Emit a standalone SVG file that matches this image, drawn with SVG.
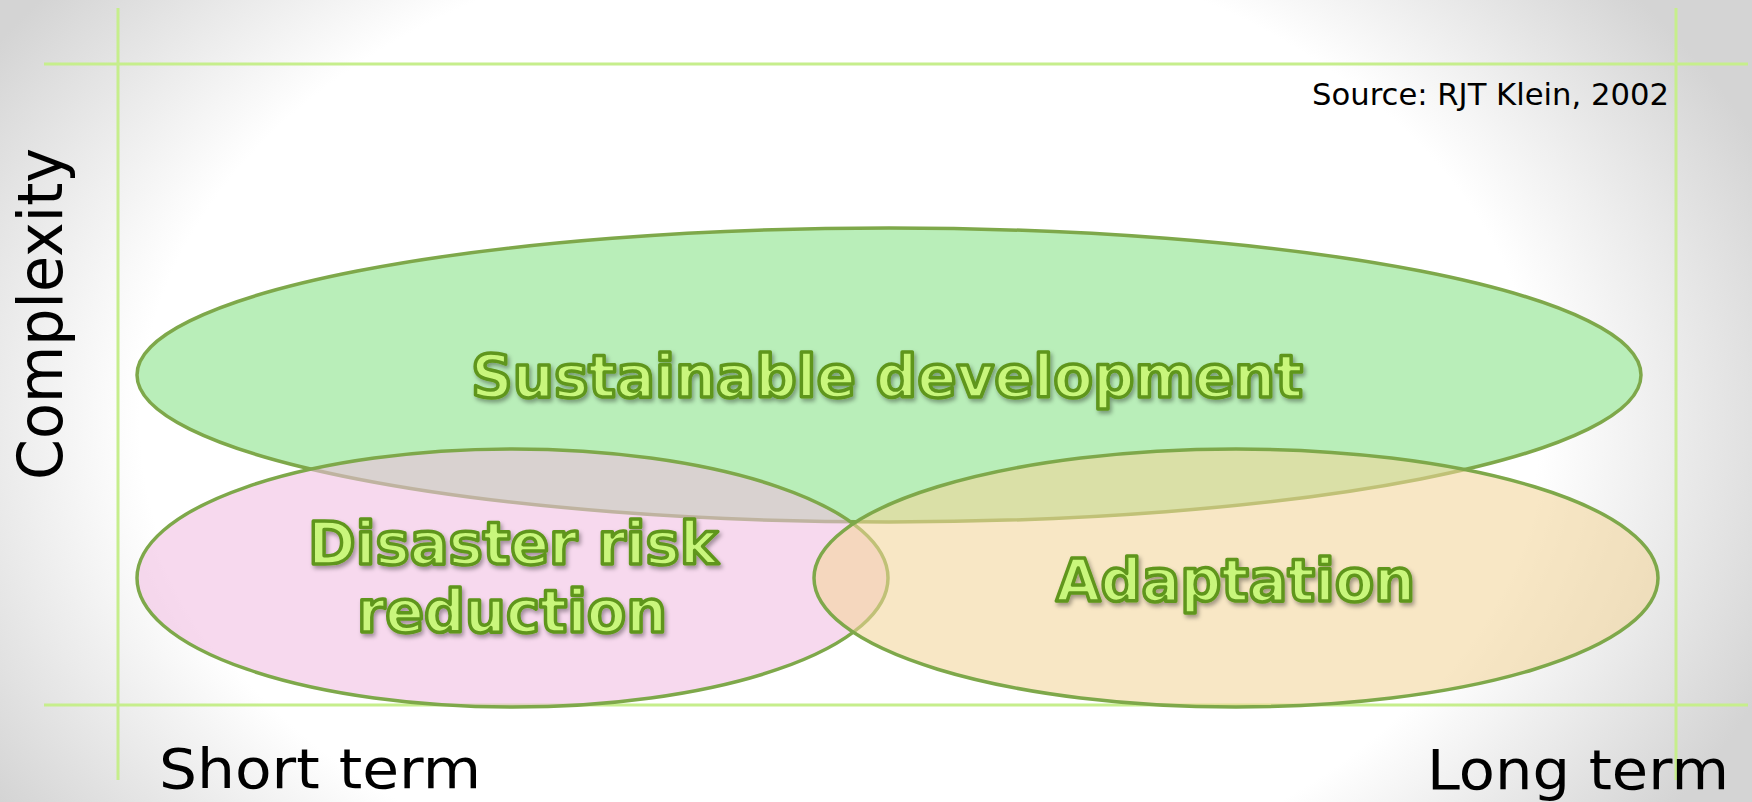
<svg xmlns="http://www.w3.org/2000/svg" width="1752" height="802" viewBox="0 0 1752 802">
<defs>
<radialGradient id="bg" gradientUnits="userSpaceOnUse" cx="840" cy="420" r="1000" gradientTransform="translate(840 420) scale(1 0.7) translate(-840 -420)">
<stop offset="0" stop-color="#ffffff"/>
<stop offset="0.7" stop-color="#ffffff"/>
<stop offset="1" stop-color="#d4d4d4"/>
</radialGradient>
<filter id="shadow" x="-10%" y="-30%" width="120%" height="160%">
<feDropShadow dx="2" dy="3" stdDeviation="2" flood-color="#000000" flood-opacity="0.35"/>
</filter>
<style>
.axis{stroke:#c6ee8c;stroke-width:3;fill:none}
.oval{stroke:#7ea84a;stroke-width:3.5}
.big{font-family:"DejaVu Sans","Liberation Sans",sans-serif;font-weight:bold;font-size:58px;fill:#c9f67b;stroke:#5f961c;stroke-width:3.5;stroke-linejoin:round;text-anchor:middle;filter:url(#shadow)}
.lbl{font-family:"DejaVu Sans","Liberation Sans",sans-serif;fill:#000000}
</style>
</defs>
<rect x="0" y="0" width="1752" height="802" fill="url(#bg)"/>
<g id="axes">
<line class="axis" x1="44" y1="64" x2="1748" y2="64"/>
<line class="axis" x1="44" y1="705" x2="1748" y2="705"/>
<line class="axis" x1="118" y1="8" x2="118" y2="780"/>
<line class="axis" x1="1676" y1="8" x2="1676" y2="780"/>
</g>
<g id="connectors"></g>
<g id="sustainable-development">
<ellipse class="oval" cx="889" cy="375" rx="752" ry="147" fill="#b9eeb9"/>
</g>
<g id="disaster-risk-reduction">
<ellipse class="oval" cx="512.5" cy="578" rx="375.5" ry="129" fill="rgb(241,188,225)" fill-opacity="0.57"/>
</g>
<g id="adaptation">
<ellipse class="oval" cx="1236" cy="578" rx="422" ry="129" fill="rgb(243,213,153)" fill-opacity="0.57"/>
</g>
<g id="labels-big">
<text class="big" x="887" y="397" textLength="832" lengthAdjust="spacingAndGlyphs">Sustainable development</text>
<text class="big" x="513" y="564" textLength="410" lengthAdjust="spacingAndGlyphs">Disaster risk</text>
<text class="big" x="512" y="632" textLength="310" lengthAdjust="spacingAndGlyphs">reduction</text>
<text class="big" x="1235.5" y="601" textLength="359" lengthAdjust="spacingAndGlyphs">Adaptation</text>
</g>
<g id="axis-labels">
<text class="lbl" transform="translate(62,480) rotate(-90)" x="0" y="0" font-size="63" textLength="332" lengthAdjust="spacingAndGlyphs">Complexity</text>
<text class="lbl" x="159" y="788" font-size="55" textLength="322" lengthAdjust="spacingAndGlyphs">Short term</text>
<text class="lbl" x="1427" y="789" font-size="55" textLength="302" lengthAdjust="spacingAndGlyphs">Long term</text>
<text class="lbl" x="1312" y="105" font-size="30" textLength="357" lengthAdjust="spacingAndGlyphs">Source: RJT Klein, 2002</text>
</g>
</svg>
